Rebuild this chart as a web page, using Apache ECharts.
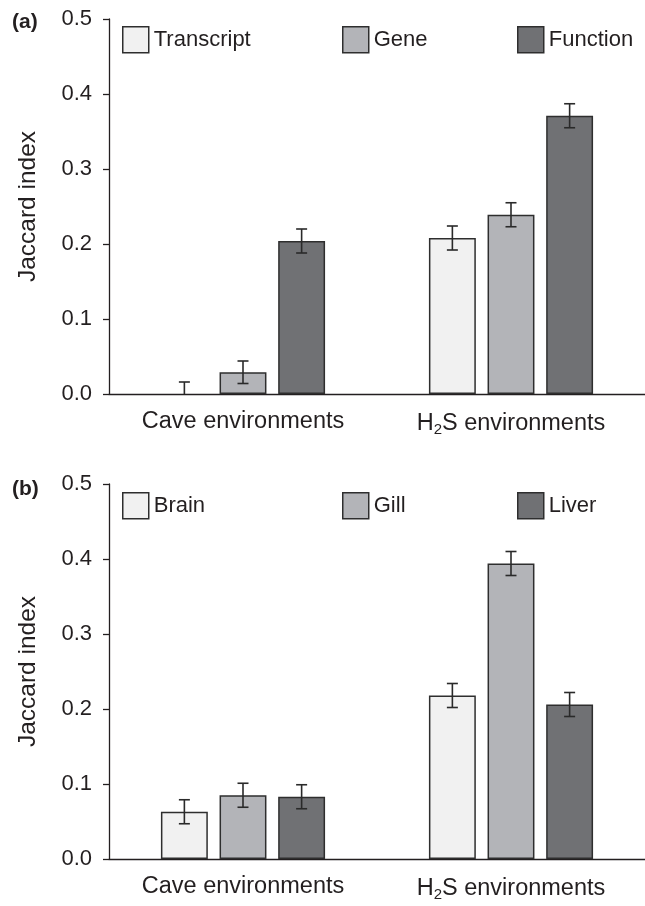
<!DOCTYPE html>
<html><head><meta charset="utf-8">
<script src="https://cdn.jsdelivr.net/npm/echarts@6/dist/echarts.min.js"></script>
<style>html,body{margin:0;padding:0;background:#fff}#c{width:645px;height:906px}</style>
</head><body><div id="c"></div>
<script>
// ---- data ----
const categories = ['Cave environments', 'H2S environments'];
const yTicks = [0, 0.1, 0.2, 0.3, 0.4, 0.5];

// Panel (a)
const namesA = ['Transcript', 'Gene', 'Function'];
const transcriptA = [0.000, 0.208];
const geneA = [0.029, 0.239];
const functionA = [0.204, 0.371];
const transcriptErrA = [0.016, 0.016];
const geneErrA = [0.015, 0.016];
const functionErrA = [0.016, 0.016];

// Panel (b)
const namesB = ['Brain', 'Gill', 'Liver'];
const brainB = [0.063, 0.218];
const gillB = [0.085, 0.394];
const liverB = [0.083, 0.206];
const brainErrB = [0.016, 0.016];
const gillErrB = [0.016, 0.016];
const liverErrB = [0.016, 0.016];

// ---- styling ----
const TXT = '#231f20';
const FONT = '"Liberation Sans", Arial, Helvetica, sans-serif';
const FILLS = ['#f1f1f1', '#b3b4b8', '#707174'];
const BORDER = '#2e2e2e';
const BAR_W = 0.175, BAR_GAP = 0.25;

const chart = echarts.init(document.getElementById('c'), null, {renderer: 'canvas'});

function catLabel(v) {
  if (v.indexOf('H2S') === 0) return '{n|H}{s|2}{n|S environments}';
  return '{n|' + v + '}';
}

function makeAxes(gi) {
  return {
    x: {
      type: 'category', gridIndex: gi, data: categories,
      axisTick: {show: false},
      axisLine: {lineStyle: {color: TXT, width: 1.3}},
      axisLabel: {
        margin: 16, formatter: catLabel,
        rich: {
          n: {fontSize: 23.5, color: TXT, fontFamily: FONT},
          s: {fontSize: 15, color: TXT, fontFamily: FONT, padding: [12, 0, 0, 0]}
        }
      }
    },
    y: {
      type: 'value', gridIndex: gi, min: 0, max: 0.5, interval: 0.1,
      name: 'Jaccard index', nameLocation: 'middle', nameGap: 68,
      nameTextStyle: {fontSize: 24.5, color: TXT, fontFamily: FONT},
      axisLine: {show: true, lineStyle: {color: TXT, width: 1.3}},
      axisTick: {show: true, length: 6, lineStyle: {color: TXT, width: 1.3}},
      splitLine: {show: false},
      axisLabel: {margin: 17, fontSize: 22, color: TXT, fontFamily: FONT,
        formatter: v => v.toFixed(1)}
    }
  };
}

function barSeries(name, data, idx, gi) {
  return {
    type: 'bar', name: name, xAxisIndex: gi, yAxisIndex: gi,
    data: data.map(v => v === 0 ? {value: v, itemStyle: {borderWidth: 0, opacity: 0}} : v),
    barWidth: (BAR_W * 100) + '%', barGap: (BAR_GAP * 100) + '%',
    itemStyle: {color: FILLS[idx], borderColor: BORDER, borderWidth: 1.5},
    emphasis: {disabled: true}
  };
}

function errSeries(values, errs, idx, gi) {
  const data = values.map((v, i) => [i, v, errs[i]]);
  return {
    type: 'custom', xAxisIndex: gi, yAxisIndex: gi, data: data,
    encode: {x: 0, y: 1}, z: 10, silent: true,
    renderItem: function (params, api) {
      const ci = api.value(0), v = api.value(1), e = api.value(2);
      const c = api.coord([ci, v]);
      const band = api.size([1, 0])[0];
      const x = c[0] + (idx - 1) * band * BAR_W * (1 + BAR_GAP);
      const hi = api.coord([ci, v + e])[1];
      const lowV = Math.max(0, v - e);
      const lo = api.coord([ci, lowV])[1];
      const st = {stroke: '#2a2a2a', lineWidth: 1.6};
      const cw = 5.5;
      const ch = [
        {type: 'line', shape: {x1: x, y1: hi, x2: x, y2: lo}, style: st},
        {type: 'line', shape: {x1: x - cw, y1: hi, x2: x + cw, y2: hi}, style: st}
      ];
      if (v - e >= 0) ch.push({type: 'line', shape: {x1: x - cw, y1: lo, x2: x + cw, y2: lo}, style: st});
      return {type: 'group', children: ch};
    }
  };
}

function legendFor(name, left, top) {
  return {
    data: [name], left: left, top: top, orient: 'horizontal', padding: 0,
    itemWidth: 26, itemHeight: 26, icon: 'rect', selectedMode: false,
    itemStyle: {borderColor: BORDER, borderWidth: 1.5},
    textStyle: {fontSize: 22, color: TXT, fontFamily: FONT}
  };
}

const aA = makeAxes(0), aB = makeAxes(1);
const legendLefts = [122, 342, 517];

const option = {
  animation: false,
  backgroundColor: '#fff',
  textStyle: {fontFamily: FONT},
  grid: [
    {left: 109, top: 19, width: 544, height: 375, containLabel: false},
    {left: 109, top: 484, width: 544, height: 375, containLabel: false}
  ],
  xAxis: [aA.x, aB.x],
  yAxis: [aA.y, aB.y],
  legend: [
    legendFor(namesA[0], legendLefts[0], 26),
    legendFor(namesA[1], legendLefts[1], 26),
    legendFor(namesA[2], legendLefts[2], 26),
    legendFor(namesB[0], legendLefts[0], 492),
    legendFor(namesB[1], legendLefts[1], 492),
    legendFor(namesB[2], legendLefts[2], 492)
  ],
  graphic: [
    {type: 'text', left: 12, top: 12, style: {text: '(a)', font: 'bold 21px ' + FONT, fill: TXT}},
    {type: 'text', left: 12, top: 479, style: {text: '(b)', font: 'bold 21px ' + FONT, fill: TXT}}
  ],
  series: [
    barSeries(namesA[0], transcriptA, 0, 0),
    barSeries(namesA[1], geneA, 1, 0),
    barSeries(namesA[2], functionA, 2, 0),
    errSeries(transcriptA, transcriptErrA, 0, 0),
    errSeries(geneA, geneErrA, 1, 0),
    errSeries(functionA, functionErrA, 2, 0),
    barSeries(namesB[0], brainB, 0, 1),
    barSeries(namesB[1], gillB, 1, 1),
    barSeries(namesB[2], liverB, 2, 1),
    errSeries(brainB, brainErrB, 0, 1),
    errSeries(gillB, gillErrB, 1, 1),
    errSeries(liverB, liverErrB, 2, 1)
  ]
};
chart.setOption(option);
</script>
</body></html>
